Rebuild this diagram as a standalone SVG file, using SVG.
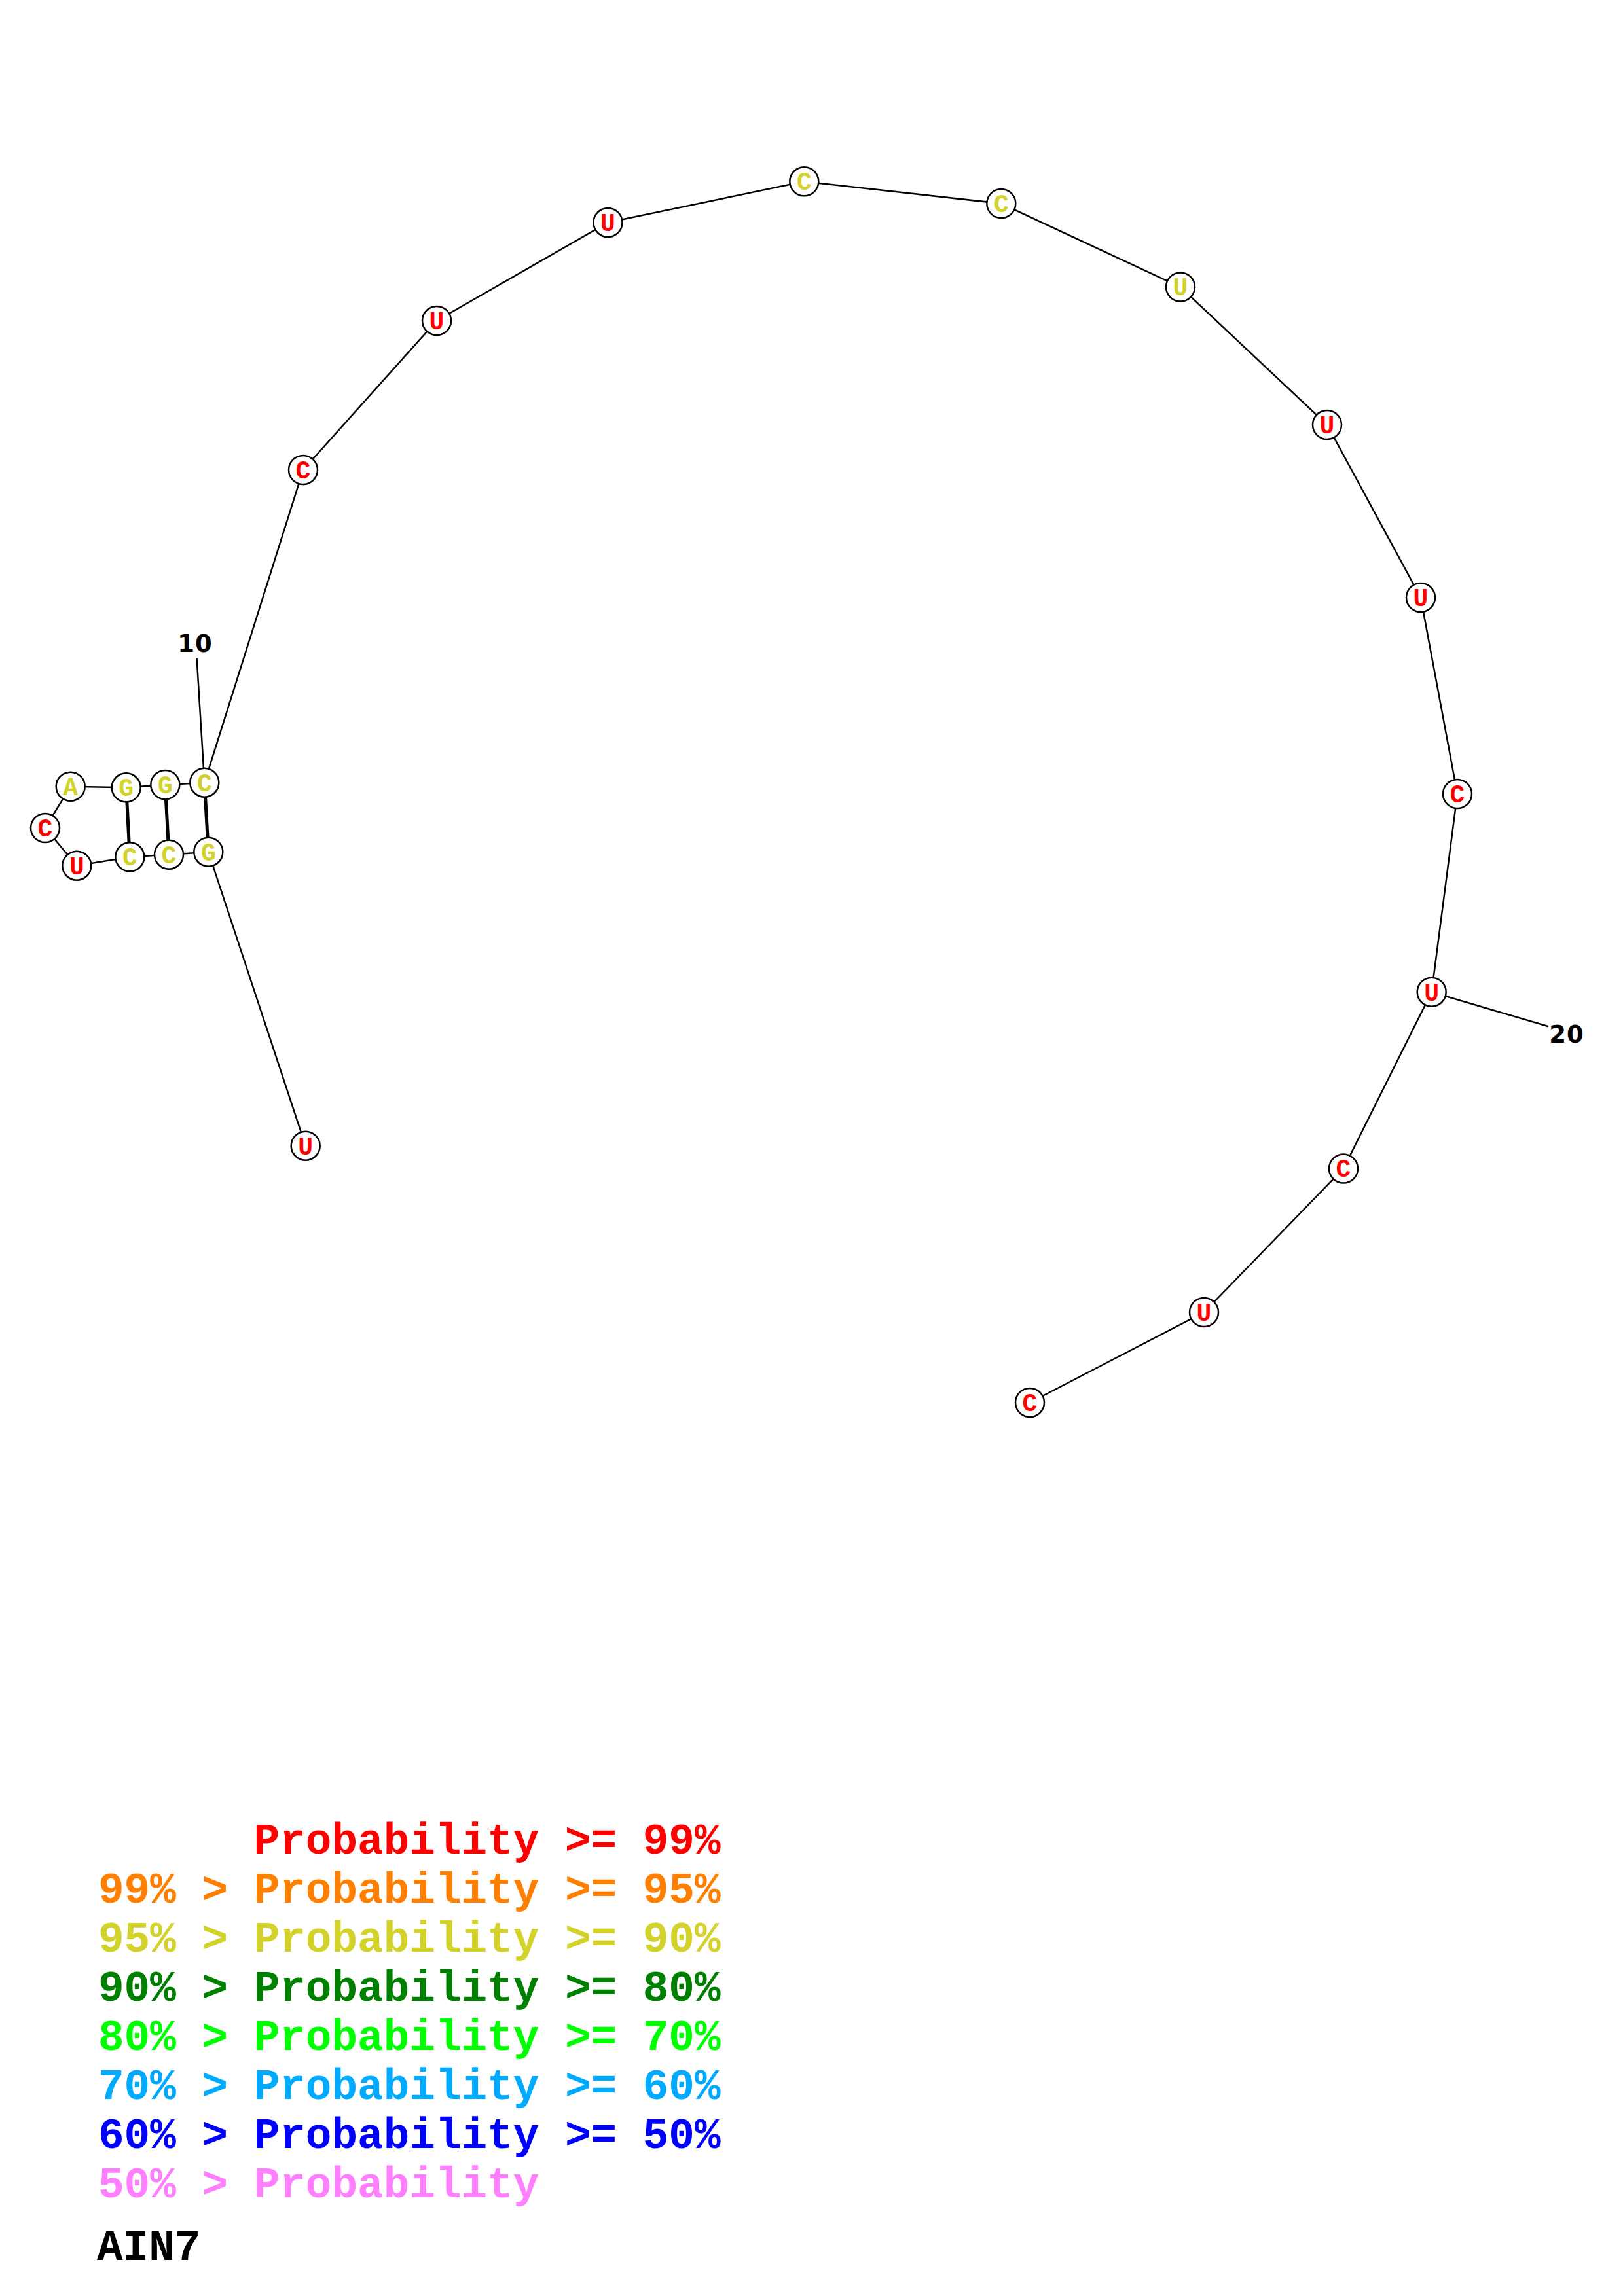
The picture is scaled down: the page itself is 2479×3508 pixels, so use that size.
<svg xmlns="http://www.w3.org/2000/svg" width="2479" height="3508" viewBox="0 0 2479 3508">
<style>
.bb{stroke:#000;stroke-width:2.5;fill:none}
.bp{stroke:#000;stroke-width:5;fill:none}
.nd circle{fill:#fff;stroke:#000;stroke-width:2.5}
.nd text{font-family:"Liberation Mono","DejaVu Sans Mono",monospace;font-weight:bold;font-size:38px;text-anchor:middle}
.r{fill:#FF0000}
.y{fill:#D2D22A}
.num{font-family:"DejaVu Sans","Liberation Sans",sans-serif;font-weight:bold;font-size:37px;text-anchor:middle;fill:#000;letter-spacing:1px}
.lg{font-family:"Liberation Mono","DejaVu Sans Mono",monospace;font-weight:bold;font-size:66px}
</style>
<rect width="2479" height="3508" fill="#fff"/>
<g id="connectors">
<polyline class="bb" points="466.7,1750.7 318.3,1301.7 258,1305.7 198.3,1309.3 117.3,1322.7 69,1265 107.7,1201.7 192.7,1203.3 252.3,1199 312.3,1195.7 463,718 667,490 928.5,340 1228.3,277.3 1529.3,311 1803,438.5 2027,649 2170,913 2226,1213 2186.7,1515.7 2052,1785.5 1839,2005 1573,2143"/>
<line class="bp" x1="318.3" y1="1301.7" x2="312.3" y2="1195.7"/>
<line class="bp" x1="258" y1="1305.7" x2="252.3" y2="1199"/>
<line class="bp" x1="198.3" y1="1309.3" x2="192.7" y2="1203.3"/>
<line class="bb" x1="312.3" y1="1195.7" x2="300.5" y2="1005"/>
<line class="bb" x1="2186.7" y1="1515.7" x2="2365" y2="1568.3"/>
</g>
<g id="n1" class="nd"><circle cx="466.7" cy="1750.7" r="22"/><text class="r" x="466.7" y="1763.5">U</text></g>
<g id="n2" class="nd"><circle cx="318.3" cy="1301.7" r="22"/><text class="y" x="318.3" y="1314.5">G</text></g>
<g id="n3" class="nd"><circle cx="258" cy="1305.7" r="22"/><text class="y" x="258" y="1318.5">C</text></g>
<g id="n4" class="nd"><circle cx="198.3" cy="1309.3" r="22"/><text class="y" x="198.3" y="1322.1">C</text></g>
<g id="n5" class="nd"><circle cx="117.3" cy="1322.7" r="22"/><text class="r" x="117.3" y="1335.5">U</text></g>
<g id="n6" class="nd"><circle cx="69" cy="1265" r="22"/><text class="r" x="69" y="1277.8">C</text></g>
<g id="n7" class="nd"><circle cx="107.7" cy="1201.7" r="22"/><text class="y" x="107.7" y="1214.5">A</text></g>
<g id="n8" class="nd"><circle cx="192.7" cy="1203.3" r="22"/><text class="y" x="192.7" y="1216.1">G</text></g>
<g id="n9" class="nd"><circle cx="252.3" cy="1199" r="22"/><text class="y" x="252.3" y="1211.8">G</text></g>
<g id="n10" class="nd"><circle cx="312.3" cy="1195.7" r="22"/><text class="y" x="312.3" y="1208.5">C</text></g>
<g id="n11" class="nd"><circle cx="463" cy="718" r="22"/><text class="r" x="463" y="730.8">C</text></g>
<g id="n12" class="nd"><circle cx="667" cy="490" r="22"/><text class="r" x="667" y="502.8">U</text></g>
<g id="n13" class="nd"><circle cx="928.5" cy="340" r="22"/><text class="r" x="928.5" y="352.8">U</text></g>
<g id="n14" class="nd"><circle cx="1228.3" cy="277.3" r="22"/><text class="y" x="1228.3" y="290.1">C</text></g>
<g id="n15" class="nd"><circle cx="1529.3" cy="311" r="22"/><text class="y" x="1529.3" y="323.8">C</text></g>
<g id="n16" class="nd"><circle cx="1803" cy="438.5" r="22"/><text class="y" x="1803" y="451.3">U</text></g>
<g id="n17" class="nd"><circle cx="2027" cy="649" r="22"/><text class="r" x="2027" y="661.8">U</text></g>
<g id="n18" class="nd"><circle cx="2170" cy="913" r="22"/><text class="r" x="2170" y="925.8">U</text></g>
<g id="n19" class="nd"><circle cx="2226" cy="1213" r="22"/><text class="r" x="2226" y="1225.8">C</text></g>
<g id="n20" class="nd"><circle cx="2186.7" cy="1515.7" r="22"/><text class="r" x="2186.7" y="1528.5">U</text></g>
<g id="n21" class="nd"><circle cx="2052" cy="1785.5" r="22"/><text class="r" x="2052" y="1798.3">C</text></g>
<g id="n22" class="nd"><circle cx="1839" cy="2005" r="22"/><text class="r" x="1839" y="2017.8">U</text></g>
<g id="n23" class="nd"><circle cx="1573" cy="2143" r="22"/><text class="r" x="1573" y="2155.8">C</text></g>
<g id="labels">
<text class="num" x="298" y="996">10</text>
<text class="num" x="2393" y="1592.7">20</text>
</g>
<g id="legend" class="lg">
<text x="387.6" y="2831.7" fill="#FF0000">Probability &gt;= 99%</text>
<text x="150" y="2906.7" fill="#FF8000">99% &gt; Probability &gt;= 95%</text>
<text x="150" y="2981.7" fill="#D2D22A">95% &gt; Probability &gt;= 90%</text>
<text x="150" y="3056.7" fill="#008000">90% &gt; Probability &gt;= 80%</text>
<text x="150" y="3131.7" fill="#00FF00">80% &gt; Probability &gt;= 70%</text>
<text x="150" y="3206.7" fill="#00AAFF">70% &gt; Probability &gt;= 60%</text>
<text x="150" y="3281.7" fill="#0000FF">60% &gt; Probability &gt;= 50%</text>
<text x="150" y="3356.7" fill="#FF80FF">50% &gt; Probability</text>
<text x="148" y="3453.3" fill="#000">AIN7</text>
</g>
</svg>
